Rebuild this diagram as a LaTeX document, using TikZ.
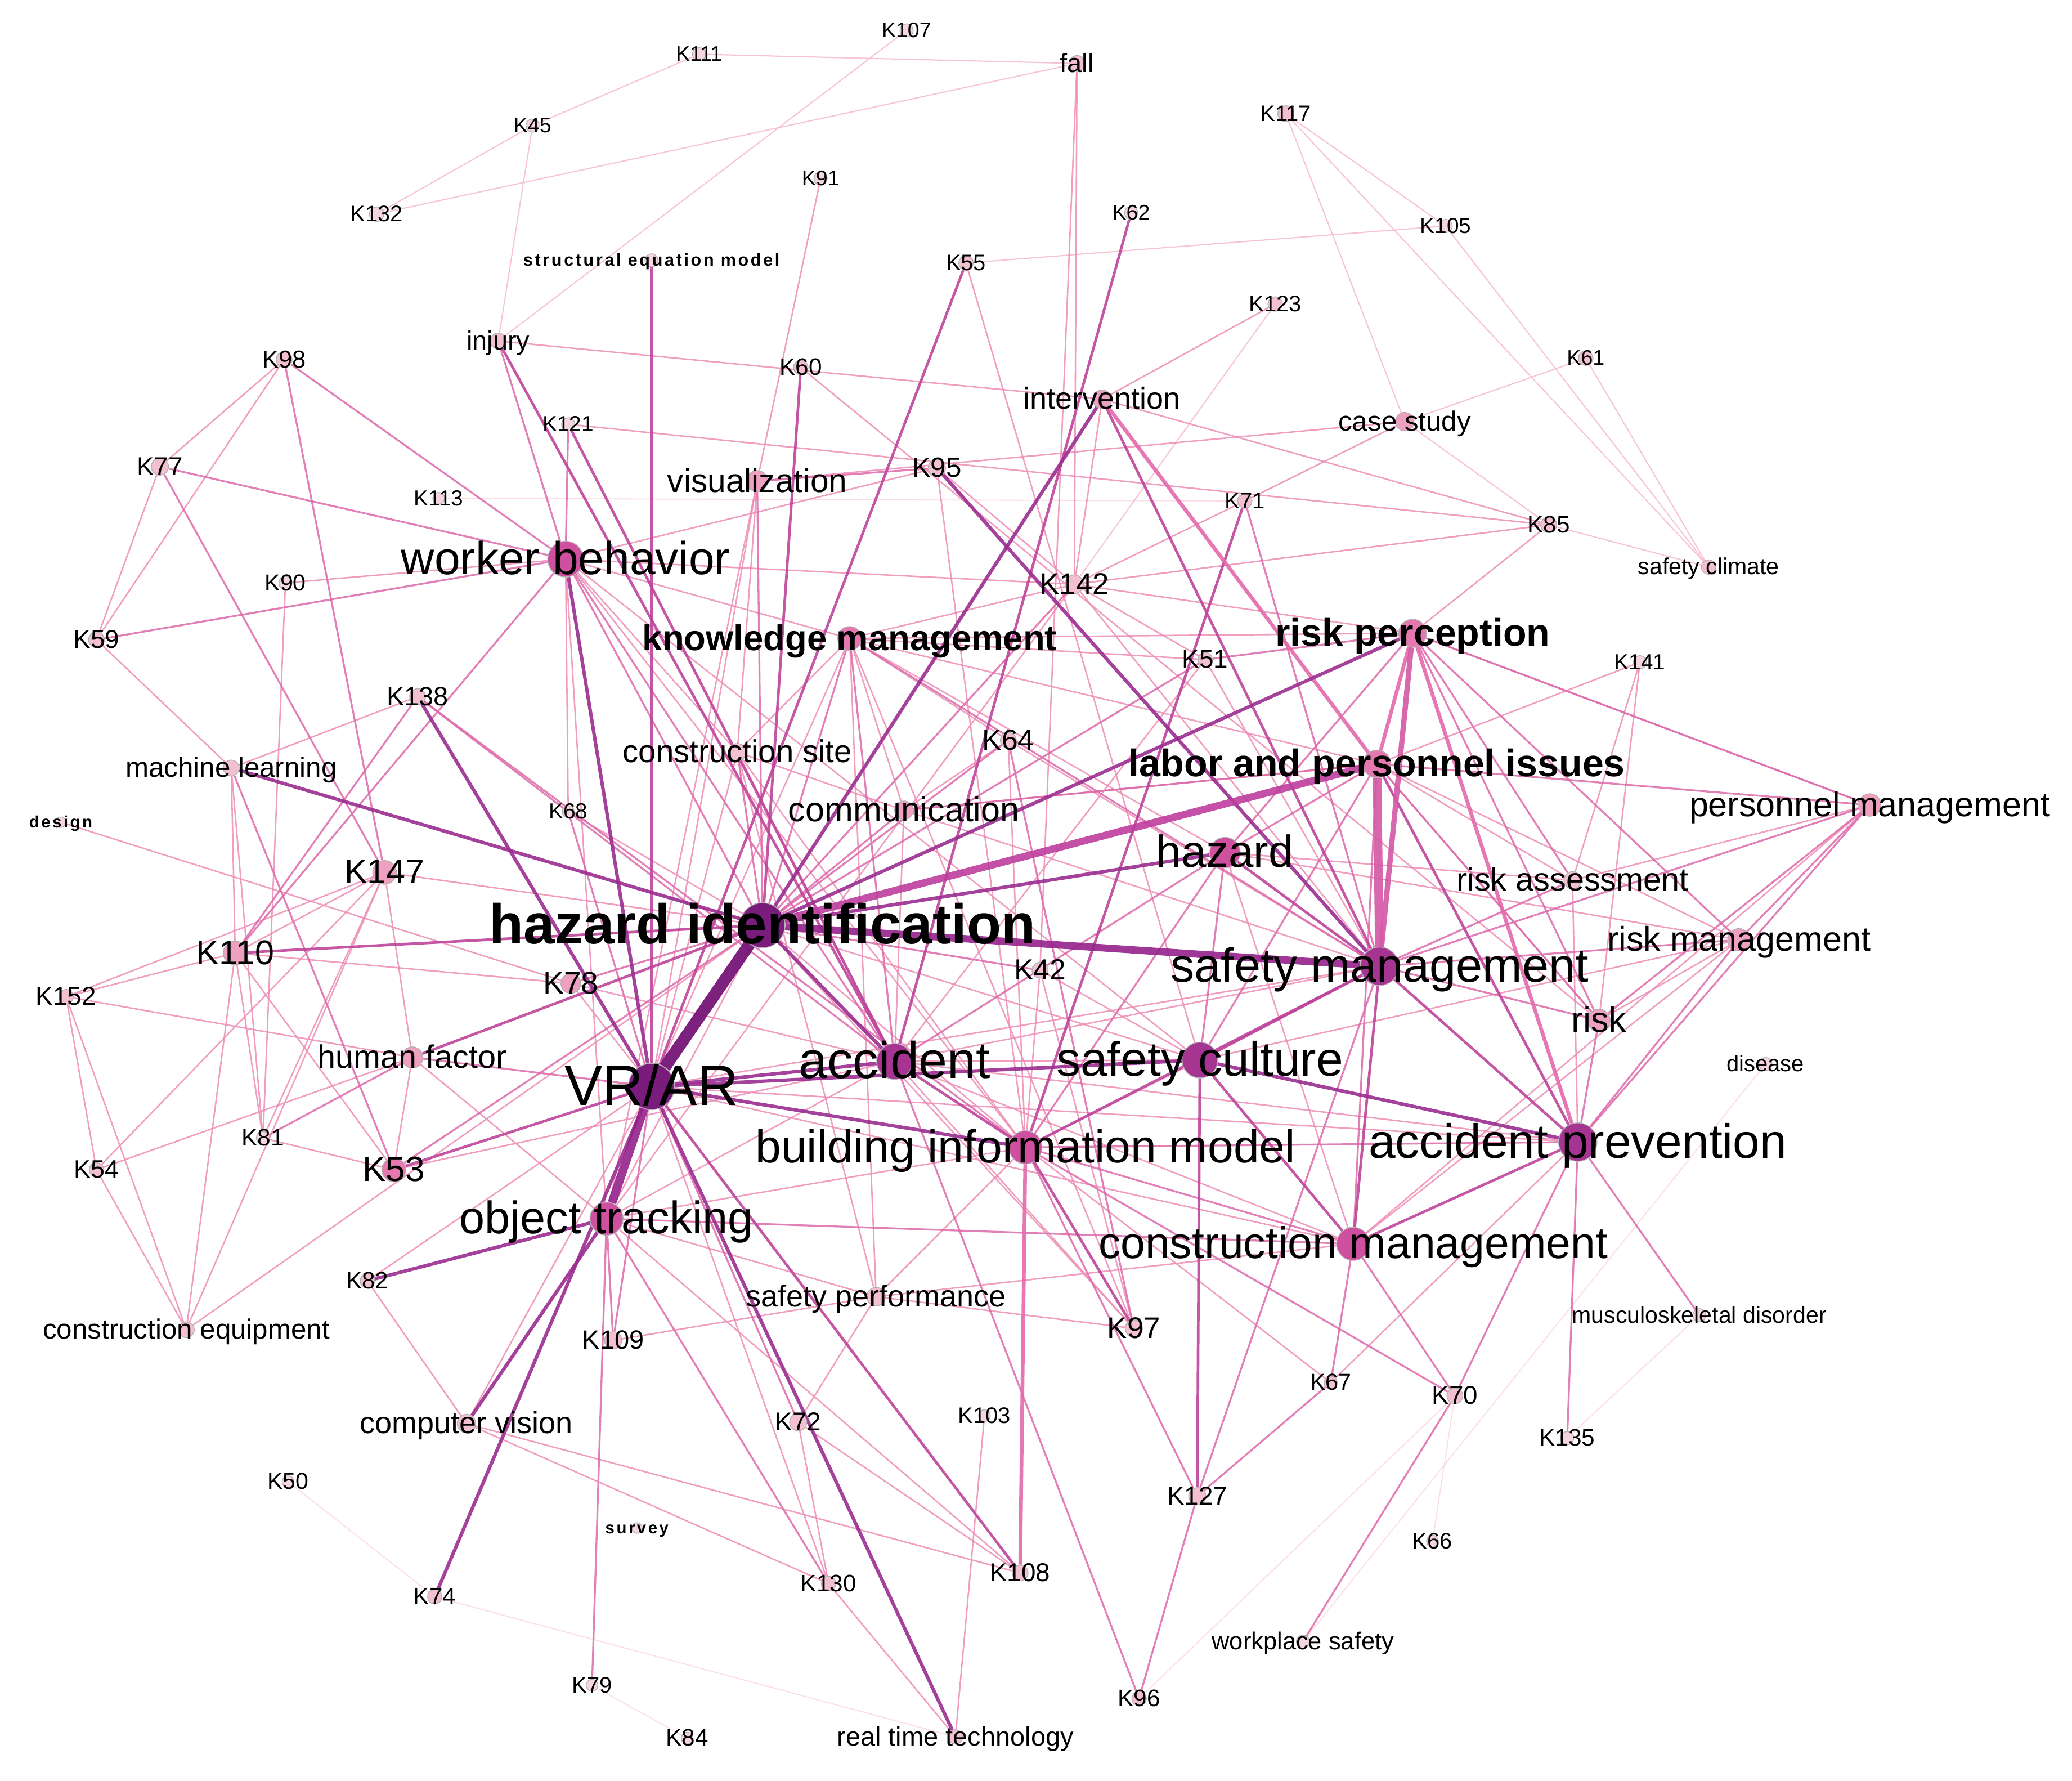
\documentclass[tikz,border=0pt]{standalone}
\usepackage{fontspec}
\setmainfont{Liberation Sans}
\newfontfamily\spcfont{Liberation Sans}[LetterSpace=12]
\pgfdeclarelayer{back}\pgfdeclarelayer{bg}\pgfdeclarelayer{fg}
\pgfsetlayers{back,bg,main,fg}
\definecolor{c0}{RGB}{246,214,222}
\definecolor{c1}{RGB}{243,192,208}
\definecolor{c2}{RGB}{238,160,192}
\definecolor{c3}{RGB}{230,120,176}
\definecolor{c4}{RGB}{208,80,160}
\definecolor{c5}{RGB}{166,52,145}
\definecolor{c6}{RGB}{122,28,124}
\definecolor{ce0}{RGB}{252,218,225}
\definecolor{ce1}{RGB}{247,190,208}
\definecolor{ce2}{RGB}{238,140,182}
\definecolor{ce3}{RGB}{222,105,170}
\definecolor{ce4}{RGB}{190,68,155}
\definecolor{ce5}{RGB}{155,45,145}
\definecolor{cpk}{RGB}{228,105,170}
\definecolor{h1}{RGB}{118,22,120}
\definecolor{h2}{RGB}{148,34,138}
\definecolor{h3}{RGB}{190,62,158}
\definecolor{h4}{RGB}{212,88,166}
\tikzset{
 kw/.style={circle, inner sep=0pt, minimum size=#1, draw=black!30, line width=0.6pt},
 lbl/.style={font=\fontsize{#1}{#1}\selectfont, inner sep=0pt, anchor=base, yshift={-0.33*#1pt}, text=black},
 e0/.style={line width=0.8pt, draw=ce0, opacity=0.9},
 e1/.style={line width=0.9pt, draw=ce1, opacity=0.9},
 e2/.style={line width=1.1pt, draw=ce2, opacity=0.85},
 e3/.style={line width=1.4pt, draw=ce3, opacity=0.85},
 e4/.style={line width=2pt, draw=ce4, opacity=0.9},
 e5/.style={line width=2.6pt, draw=ce5, opacity=0.9},
 epk/.style={line width=2.8pt, draw=cpk, opacity=0.9}
}
\newcommand{\kwn}[7]{\node[kw=#4, fill=#5] (#1) at (#2,#3) {};\begin{pgfonlayer}{fg}\node[lbl=#6] (#1-t) at (#1) {#7};\end{pgfonlayer}}
\begin{document}
\begin{tikzpicture}[x=1pt,y=-1pt]
\useasboundingbox (0,0) rectangle (1568,1347);
\begin{pgfonlayer}{back}\fill[white] (0,0) rectangle (1568,1347);\end{pgfonlayer}
\kwn{K107}{686}{23}{10}{c0}{16}{K107}
\kwn{K111}{529}{41}{10}{c0}{16}{K111}
\kwn{fall}{815}{48}{12}{c1}{20}{fall}
\kwn{K45}{403}{95}{10}{c0}{16}{K45}
\kwn{K117}{973}{86}{12}{c1}{17}{K117}
\kwn{K132}{285}{162}{11}{c0}{17}{K132}
\kwn{K91}{621}{135}{10}{c0}{16}{K91}
\kwn{K62}{856}{161}{10}{c0}{16}{K62}
\kwn{K105}{1094}{171}{10}{c0}{16.5}{K105}
\kwn{sem}{493}{197}{10}{c0}{13}{\spcfont\bfseries structural equation model}
\kwn{K55}{731}{199}{11}{c1}{17}{K55}
\kwn{K123}{965}{230}{11}{c1}{17}{K123}
\kwn{injury}{377}{258}{12}{c1}{20}{injury}
\kwn{K98}{215}{272}{12}{c1}{18.5}{K98}
\kwn{K60}{606}{278}{11}{c1}{18}{K60}
\kwn{K61}{1200}{271}{11}{c1}{16}{K61}
\kwn{interv}{834}{302}{14}{c2}{23}{intervention}
\kwn{cs}{1063}{319}{14}{c2}{21}{case study}
\kwn{K121}{430}{321}{10}{c0}{16.5}{K121}
\kwn{K77}{121}{353}{13}{c1}{19.5}{K77}
\kwn{vis}{573}{364}{16}{c2}{25}{visualization}
\kwn{K95}{709}{354}{13}{c1}{21}{K95}
\kwn{K113}{332}{377}{9}{c0}{16.5}{K113}
\kwn{K71}{942}{379}{11}{c1}{17}{K71}
\kwn{K85}{1172}{397}{12}{c1}{18}{K85}
\kwn{wb}{428}{423}{27}{c4}{35}{worker behavior}
\kwn{sclim}{1293}{429}{11}{c1}{17.5}{safety climate}
\kwn{K90}{216}{441}{10}{c0}{17.5}{K90}
\kwn{K142}{813}{442}{14}{c1}{22.5}{K142}
\kwn{K59}{73}{484}{12}{c1}{19.5}{K59}
\kwn{km}{643}{483}{18}{c3}{27}{\bfseries knowledge management}
\kwn{rp}{1069}{479}{21}{c3}{29}{\bfseries risk perception}
\kwn{K51}{912}{499}{11}{c1}{19.5}{K51}
\kwn{K141}{1241}{501}{10}{c0}{16.5}{K141}
\kwn{K138}{316}{527}{12}{c1}{20}{K138}
\kwn{ml}{175}{581}{12}{c1}{21}{machine learning}
\kwn{csite}{558}{569}{13}{c1}{24}{construction site}
\kwn{K64}{763}{560}{12}{c1}{22}{K64}
\kwn{lpi}{1042}{578}{21}{c3}{29}{\bfseries labor and personnel issues}
\kwn{design}{46}{622}{8}{c0}{12.5}{\spcfont\bfseries design}
\kwn{K68}{430}{614}{9}{c0}{16.5}{K68}
\kwn{comm}{684}{613}{14}{c2}{26}{communication}
\kwn{pm}{1415}{609}{17}{c2}{26}{personnel management}
\kwn{haz}{927}{645}{23}{c4}{34}{hazard}
\kwn{K147}{291}{660}{18}{c2}{26}{K147}
\kwn{ra}{1190}{666}{13}{c1}{24.5}{risk assessment}
\kwn{hi}{577}{700}{34}{c6}{42.5}{\bfseries hazard identification}
\kwn{K110}{178}{721}{18}{c2}{26}{K110}
\kwn{rm}{1316}{711}{17}{c2}{26}{risk management}
\kwn{sm}{1044}{731}{29}{c5}{36}{safety management}
\kwn{K78}{432}{744}{15}{c2}{23.5}{K78}
\kwn{K42}{787}{734}{12}{c1}{22}{K42}
\kwn{K152}{50}{754}{11}{c1}{19.5}{K152}
\kwn{risk}{1210}{772}{17}{c2}{27}{risk}
\kwn{hf}{312}{800}{16}{c2}{24.5}{human factor}
\kwn{acc}{677}{803}{27}{c5}{39}{accident}
\kwn{sc}{908}{802}{27}{c5}{36.5}{safety culture}
\kwn{disease}{1336}{805}{10}{c0}{17}{disease}
\kwn{vrar}{493}{822}{35}{c6}{43}{VR/AR}
\kwn{ap}{1194}{864}{29}{c5}{36.5}{accident prevention}
\kwn{K81}{199}{861}{10}{c0}{18}{K81}
\kwn{bim}{776}{868}{25}{c4}{35}{building information model}
\kwn{K53}{298}{885}{18}{c3}{26.5}{K53}
\kwn{K54}{73}{885}{11}{c1}{19}{K54}
\kwn{ot}{459}{922}{25}{c4}{34.5}{object tracking}
\kwn{cm}{1024}{941}{25}{c4}{33.5}{construction management}
\kwn{K82}{278}{969}{11}{c1}{18}{K82}
\kwn{sp}{663}{981}{14}{c1}{23}{safety performance}
\kwn{K97}{858}{1005}{13}{c1}{22.5}{K97}
\kwn{ceq}{141}{1006}{12}{c1}{21}{construction equipment}
\kwn{msd}{1286}{995}{10}{c0}{17.5}{musculoskeletal disorder}
\kwn{K109}{464}{1014}{13}{c1}{20}{K109}
\kwn{K67}{1007}{1046}{10}{c1}{17.5}{K67}
\kwn{K70}{1101}{1056}{12}{c1}{19.5}{K70}
\kwn{cv}{353}{1077}{14}{c1}{23}{computer vision}
\kwn{K72}{604}{1076}{13}{c1}{19.5}{K72}
\kwn{K103}{745}{1071}{9}{c0}{17}{K103}
\kwn{K135}{1186}{1088}{10}{c0}{18}{K135}
\kwn{K50}{218}{1121}{9}{c0}{17.5}{K50}
\kwn{K127}{906}{1132}{13}{c1}{19.5}{K127}
\kwn{survey}{482}{1156}{8}{c0}{12.5}{\spcfont\bfseries survey}
\kwn{K66}{1084}{1166}{9}{c0}{17}{K66}
\kwn{K130}{627}{1198}{11}{c1}{18}{K130}
\kwn{K108}{772}{1190}{12}{c1}{19.5}{K108}
\kwn{K74}{329}{1208}{11}{c1}{18}{K74}
\kwn{ws}{986}{1242}{10}{c0}{18.5}{workplace safety}
\kwn{K79}{448}{1275}{9}{c0}{17}{K79}
\kwn{K96}{862}{1285}{11}{c1}{18}{K96}
\kwn{K84}{520}{1315}{9}{c0}{18}{K84}
\kwn{rtt}{723}{1314}{11}{c1}{20}{real time technology}
\begin{pgfonlayer}{bg}
\foreach \a/\b in {K50/K74, K79/K84, K66/K70, ws/disease, msd/K135, K96/K70, K113/K71, K74/rtt}
 {\draw[e0] (\a) -- (\b);}
\foreach \a/\b in {K111/fall, K111/K45, K107/injury, K132/fall, K132/K45, K45/injury, K105/K55, K117/K105, K117/cs, K117/sclim, K105/sclim, K61/sclim, K85/sclim, K61/cs, K123/K142, cs/K85}
 {\draw[e1] (\a) -- (\b);}
\foreach \a/\b in {ml/K110, ml/K81, K147/K110, K147/hf, K147/hi, K147/ceq, K147/K54, K147/K81, K110/K53, K110/ceq, K110/K81, K152/hf, K152/K147, K54/hf, hf/K53, hf/ot, K53/acc, K53/K81, K82/vrar, ceq/hi, cv/vrar, cv/K130, cv/K108, K130/K72, K130/rtt, K72/sp, K72/K108, rtt/K103, K108/ot, sp/ot, sp/bim, sp/cm, sp/km, sp/csite, sp/K97, K109/sp, K97/hi, K97/acc, K67/bim, K67/ap, pm/rp, pm/cm, pm/ra, rm/risk, rm/lpi, rm/cm, rm/haz, rm/sc, ra/lpi, ra/ap, ra/K141, ra/haz, risk/lpi, risk/K141, K141/lpi, rp/km, rp/K142, rp/K85, K85/K142, K121/K85, K71/K142, K71/cs, K51/sm, K51/km, K51/K142, K51/acc, K142/km, K142/sm, K142/ot, haz/cm, haz/km, lpi/comm, sm/acc, sm/vrar, sc/acc, sc/bim, sc/hi, ap/vrar, ap/acc, cm/vrar, cm/acc, bim/hi, bim/ot, acc/ot, ot/hi, K55/sc, K95/K142, K95/wb, K95/bim, vis/vrar, vis/csite, vis/ot, vis/cs, wb/bim, wb/ot, wb/km, wb/K90, wb/sc, wb/csite, wb/K142, km/lpi, km/csite, km/comm, km/K64, km/vrar, km/K97, csite/acc, csite/comm, csite/bim, csite/vrar, comm/sm, comm/acc, comm/K64, K64/bim, K64/sm, K42/bim, K42/sc, K42/fall, K42/K97, K68/hi, K68/wb, K78/vrar, K78/acc, K78/K110, fall/K142, K123/interv, interv/K85, interv/K142, injury/interv, K60/risk, K91/vis, K98/K77, K98/K59, K90/K81, K59/ml, K77/K59, K138/ml, design/K78, K152/K54, K152/ceq, K54/ceq, K152/K110, K82/cv, K130/vrar}
 {\draw[e2] (\a) -- (\b);}
\foreach \a/\b in {wb/hi, wb/acc, wb/K110, wb/K77, wb/K98, wb/K59, wb/injury, km/hi, km/acc, km/sm, csite/hi, comm/hi, comm/lpi, K64/hi, K42/hi, K51/hi, K142/hi, K78/hi, K68/vrar, haz/lpi, haz/sc, haz/bim, haz/acc, lpi/sc, lpi/cm, sm/risk, sm/rm, sm/pm, ap/rm, ap/pm, ap/risk, ap/bim, ap/msd, ap/K70, ap/K135, cm/bim, cm/K70, cm/K67, cm/ot, K127/K67, K127/sm, K127/bim, K96/K127, K96/acc, K70/ws, K70/bim, vrar/K72, vrar/K109, ot/K79, ot/K130, ot/K109, vrar/hf, hi/K53, K81/hf, K138/K110, K138/acc, K138/bim, ml/K53, rp/haz, rp/K51, rp/risk, rp/rm, rp/ra, rp/pm, risk/pm, rm/pm, lpi/pm, lpi/risk, ra/sm, K71/sm, K97/K64, vis/hi, K95/vis, K121/wb, K98/K147, K77/K147}
 {\draw[e3] (\a) -- (\b);}
\foreach \a/\b in {hi/K110, sm/cm, sm/ap, sc/K127, sc/cm, sm/sc, K55/vrar, sem/vrar, K62/acc, hf/hi, K53/vrar, interv/sm, acc/bim, lpi/ap, haz/sm, cm/ap, K121/acc, injury/acc, K60/hi, K71/bim, bim/K97, vrar/K108, sm/bim}
 {\draw[e4] (\a) -- (\b);}
\foreach \a/\b in {bim/K108, rp/lpi, interv/lpi, rp/ap}
 {\draw[epk] (\a) -- (\b);}
\foreach \a/\b in {hi/interv, hi/ml, hi/acc, vrar/acc, vrar/bim, K138/vrar, wb/vrar, ot/K82, ot/cv, K95/sm, rp/hi, vrar/rtt, sc/ap, hi/haz, vrar/K74, vrar/sc}
 {\draw[e5] (\a) -- (\b);}
\draw[line width=4pt, draw=h4, opacity=0.9] (rp) -- (sm);
\draw[line width=5.5pt, draw=h3, opacity=0.9] (hi) -- (lpi);
\draw[line width=5.5pt, draw=h2, opacity=0.9] (hi) -- (sm);
\draw[line width=6.5pt, draw=h4, opacity=0.9] (lpi) -- (sm);
\draw[line width=6.5pt, draw=h2, opacity=0.9] (vrar) -- (ot);
\draw[line width=9pt, draw=h1, opacity=0.95] (hi) -- (vrar);
\end{pgfonlayer}
\end{tikzpicture}
\end{document}
